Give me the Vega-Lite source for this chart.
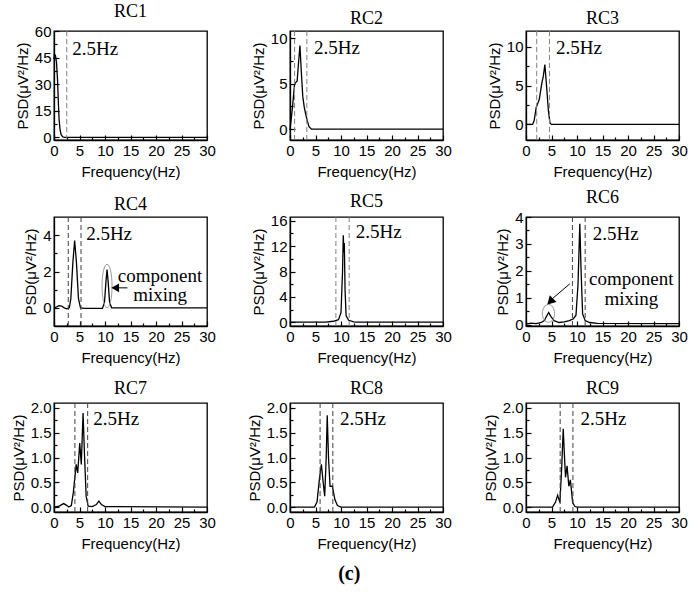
{
"$schema":"https://vega.github.io/schema/vega-lite/v6.json",
"background":"white",
"padding":{"left":10,"top":2,"right":5,"bottom":5},
"config":{
 "view":{"stroke":"black","strokeWidth":1.3},
 "axis":{"grid":false,"labelFont":"Liberation Sans","labelFontSize":15,"labelColor":"black","titleFont":"Liberation Sans","titleFontSize":15,"titleFontWeight":"normal","titleColor":"black","domainColor":"black","domainWidth":1.3,"tickColor":"black","tickWidth":1.2,"labelPadding":8,"labelOverlap":false,"labelFlush":false},
 "title":{"font":"Liberation Serif","fontSize":18,"fontWeight":"normal","color":"black","offset":3},
 "line":{"color":"black","strokeWidth":1.3},
 "text":{"color":"black"}
},
"datasets":{
 "rc1":[{"f":0,"v":44},{"f":0.1,"v":47},{"f":0.3,"v":46},{"f":0.5,"v":42},{"f":0.7,"v":32},{"f":0.85,"v":20},{"f":1.0,"v":10},{"f":1.2,"v":4},{"f":1.4,"v":1.5},{"f":1.7,"v":0.3},{"f":2.0,"v":0},{"f":30,"v":0}],
 "rc2":[{"f":0,"v":-0.1},{"f":0.5,"v":2.5},{"f":0.9,"v":5},{"f":1.4,"v":5.3},{"f":1.7,"v":7.5},{"f":1.95,"v":9.2},{"f":2.2,"v":6.5},{"f":2.5,"v":3.6},{"f":2.8,"v":2.4},{"f":3.1,"v":1.6},{"f":3.4,"v":0.9},{"f":3.7,"v":0.3},{"f":4.2,"v":0},{"f":30,"v":0}],
 "rc3":[{"f":0,"v":0},{"f":1.3,"v":0},{"f":1.6,"v":0.5},{"f":2.0,"v":2.2},{"f":2.6,"v":3.2},{"f":3.1,"v":5.3},{"f":3.4,"v":6.2},{"f":3.7,"v":7.7},{"f":4.0,"v":5.2},{"f":4.4,"v":1.7},{"f":4.7,"v":0.2},{"f":5,"v":0},{"f":30,"v":0}],
 "rc4":[{"f":0,"v":0},{"f":0.5,"v":0.05},{"f":1.0,"v":0.12},{"f":1.5,"v":0.1},{"f":2.0,"v":0.0},{"f":2.5,"v":-0.05},{"f":3.0,"v":0.0},{"f":3.3,"v":0.5},{"f":3.7,"v":2.5},{"f":4.05,"v":3.7},{"f":4.4,"v":2.5},{"f":4.8,"v":0.5},{"f":5.2,"v":0.0},{"f":6,"v":-0.03},{"f":9.5,"v":-0.03},{"f":9.9,"v":0.3},{"f":10.2,"v":1.5},{"f":10.4,"v":2.1},{"f":10.6,"v":1.5},{"f":10.9,"v":0.3},{"f":11.3,"v":0.0},{"f":30,"v":0}],
 "rc5":[{"f":0,"v":0},{"f":7,"v":0},{"f":8.5,"v":0.15},{"f":9.5,"v":0.4},{"f":10.0,"v":1.5},{"f":10.3,"v":8},{"f":10.45,"v":13.7},{"f":10.55,"v":11},{"f":10.65,"v":12.5},{"f":10.8,"v":5},{"f":11.0,"v":1},{"f":11.5,"v":0.3},{"f":12.5,"v":0.05},{"f":13,"v":0},{"f":30,"v":0}],
 "rc6":[{"f":0,"v":0.02},{"f":1,"v":0.06},{"f":2,"v":0.04},{"f":3,"v":0.08},{"f":3.6,"v":0.15},{"f":4.0,"v":0.3},{"f":4.45,"v":0.45},{"f":4.9,"v":0.3},{"f":5.5,"v":0.15},{"f":6.5,"v":0.08},{"f":7.5,"v":0.1},{"f":8.5,"v":0.15},{"f":9.3,"v":0.22},{"f":9.8,"v":0.35},{"f":10.2,"v":1.5},{"f":10.55,"v":3.75},{"f":10.8,"v":2},{"f":11.1,"v":0.4},{"f":11.6,"v":0.15},{"f":12.5,"v":0.08},{"f":14,"v":0.05},{"f":30,"v":0.04}],
 "rc7":[{"f":0,"v":0},{"f":1,"v":0.02},{"f":1.9,"v":0.07},{"f":2.4,"v":0.04},{"f":2.9,"v":0.0},{"f":3.4,"v":0.03},{"f":3.8,"v":0.3},{"f":4.35,"v":0.86},{"f":4.65,"v":0.69},{"f":5.05,"v":1.29},{"f":5.35,"v":0.86},{"f":5.7,"v":1.9},{"f":6.0,"v":1.0},{"f":6.3,"v":0.22},{"f":6.7,"v":0.02},{"f":7.5,"v":0.01},{"f":8.3,"v":0.05},{"f":8.8,"v":0.12},{"f":9.3,"v":0.05},{"f":10,"v":0.01},{"f":12,"v":0.01},{"f":30,"v":0}],
 "rc8":[{"f":0,"v":0},{"f":4.8,"v":0},{"f":5.3,"v":0.1},{"f":5.8,"v":0.6},{"f":6.15,"v":0.86},{"f":6.5,"v":0.5},{"f":6.8,"v":0.22},{"f":7.1,"v":1.0},{"f":7.3,"v":1.85},{"f":7.55,"v":1.0},{"f":7.85,"v":0.42},{"f":8.3,"v":0.42},{"f":8.8,"v":0.15},{"f":9.3,"v":0.03},{"f":10,"v":0},{"f":30,"v":0}],
 "rc9":[{"f":0,"v":0},{"f":5.2,"v":0},{"f":5.8,"v":0.1},{"f":6.2,"v":0.24},{"f":6.65,"v":0.09},{"f":7.0,"v":0.8},{"f":7.3,"v":1.58},{"f":7.6,"v":0.9},{"f":7.75,"v":0.6},{"f":8.05,"v":0.83},{"f":8.4,"v":0.42},{"f":8.7,"v":0.55},{"f":9.15,"v":0.09},{"f":9.6,"v":0.01},{"f":10,"v":0},{"f":30,"v":0}]
},
"columns":3,
"spacing":{"row":77,"column":83},
"bounds":"flush",
"title":{"text":"(c)","orient":"bottom","font":"Liberation Serif","fontSize":20,"fontWeight":"bold","offset":12,"anchor":"middle"},
"concat":[
 {"title":"RC1","width":153,"height":109,"layer":[
  {"data":{"name":"rc1"},"mark":{"type":"line"},"encoding":{
   "x":{"field":"f","type":"quantitative","scale":{"domain":[0,30],"nice":false},"axis":{"title":"Frequency(Hz)","format":"~g","tickCount":100,"values":[0,2.5,5,7.5,10,12.5,15,17.5,20,22.5,25,27.5,30],"labelExpr":"datum.value % 5 === 0 ? datum.label : ''","tickSize":{"condition":{"test":"datum.value % 5 === 0","value":-5},"value":-3}}},
   "y":{"field":"v","type":"quantitative","scale":{"domain":[-1.5,60],"nice":false,"zero":false},"axis":{"title":"PSD(μV²/Hz)","format":"~g","tickCount":100,"values":[0,7.5,15,22.5,30,37.5,45,52.5,60],"labelExpr":"datum.value % 15 === 0 ? datum.label : ''","tickSize":{"condition":{"test":"datum.value % 15 === 0","value":-5},"value":-3}}}}},
  {"data":{"values":[{"f":2.5}]},"mark":{"type":"rule","color":"#808080","strokeDash":[5,3],"strokeWidth":1},"encoding":{"x":{"field":"f","type":"quantitative"}}},
  {"data":{"values":[{"f":3.57,"v":49.9,"t":"2.5Hz"}]},"mark":{"type":"text","align":"left","baseline":"middle","font":"Liberation Serif","fontSize":19},"encoding":{"x":{"field":"f","type":"quantitative"},"y":{"field":"v","type":"quantitative"},"text":{"field":"t"}}}
 ]},
 {"title":"RC2","width":153,"height":109,"layer":[
  {"data":{"name":"rc2"},"mark":{"type":"line"},"encoding":{
   "x":{"field":"f","type":"quantitative","scale":{"domain":[0,30],"nice":false},"axis":{"title":"Frequency(Hz)","format":"~g","tickCount":100,"values":[0,2.5,5,7.5,10,12.5,15,17.5,20,22.5,25,27.5,30],"labelExpr":"datum.value % 5 === 0 ? datum.label : ''","tickSize":{"condition":{"test":"datum.value % 5 === 0","value":-5},"value":-3}}},
   "y":{"field":"v","type":"quantitative","scale":{"domain":[-1.2,10.8],"nice":false,"zero":false},"axis":{"title":"PSD(μV²/Hz)","format":"~g","tickCount":100,"values":[0,2.5,5,7.5,10],"labelExpr":"datum.value % 5 === 0 ? datum.label : ''","tickSize":{"condition":{"test":"datum.value % 5 === 0","value":-5},"value":-3}}}}},
  {"data":{"values":[{"f":0.9},{"f":3.3}]},"mark":{"type":"rule","color":"#808080","strokeDash":[5,3],"strokeWidth":1},"encoding":{"x":{"field":"f","type":"quantitative"}}},
  {"data":{"values":[{"f":4.7,"v":8.9,"t":"2.5Hz"}]},"mark":{"type":"text","align":"left","baseline":"middle","font":"Liberation Serif","fontSize":19},"encoding":{"x":{"field":"f","type":"quantitative"},"y":{"field":"v","type":"quantitative"},"text":{"field":"t"}}}
 ]},
 {"title":"RC3","width":153,"height":109,"layer":[
  {"data":{"name":"rc3"},"mark":{"type":"line"},"encoding":{
   "x":{"field":"f","type":"quantitative","scale":{"domain":[0,30],"nice":false},"axis":{"title":"Frequency(Hz)","format":"~g","tickCount":100,"values":[0,2.5,5,7.5,10,12.5,15,17.5,20,22.5,25,27.5,30],"labelExpr":"datum.value % 5 === 0 ? datum.label : ''","tickSize":{"condition":{"test":"datum.value % 5 === 0","value":-5},"value":-3}}},
   "y":{"field":"v","type":"quantitative","scale":{"domain":[-2,12],"nice":false,"zero":false},"axis":{"title":"PSD(μV²/Hz)","format":"~g","tickCount":100,"values":[0,2.5,5,7.5,10],"labelExpr":"datum.value % 5 === 0 ? datum.label : ''","tickSize":{"condition":{"test":"datum.value % 5 === 0","value":-5},"value":-3}}}}},
  {"data":{"values":[{"f":2.1},{"f":4.6}]},"mark":{"type":"rule","color":"#808080","strokeDash":[5,3],"strokeWidth":1},"encoding":{"x":{"field":"f","type":"quantitative"}}},
  {"data":{"values":[{"f":5.9,"v":9.8,"t":"2.5Hz"}]},"mark":{"type":"text","align":"left","baseline":"middle","font":"Liberation Serif","fontSize":19},"encoding":{"x":{"field":"f","type":"quantitative"},"y":{"field":"v","type":"quantitative"},"text":{"field":"t"}}}
 ]},
 {"title":"RC4","width":153,"height":109,"layer":[
  {"data":{"name":"rc4"},"mark":{"type":"line"},"encoding":{
   "x":{"field":"f","type":"quantitative","scale":{"domain":[0,30],"nice":false},"axis":{"title":"Frequency(Hz)","format":"~g","tickCount":100,"values":[0,2.5,5,7.5,10,12.5,15,17.5,20,22.5,25,27.5,30],"labelExpr":"datum.value % 5 === 0 ? datum.label : ''","tickSize":{"condition":{"test":"datum.value % 5 === 0","value":-5},"value":-3}}},
   "y":{"field":"v","type":"quantitative","scale":{"domain":[-1,5],"nice":false,"zero":false},"axis":{"title":"PSD(μV²/Hz)","format":"~g","tickCount":100,"values":[0,1,2,3,4],"labelExpr":"datum.value % 2 === 0 ? datum.label : ''","tickSize":{"condition":{"test":"datum.value % 2 === 0","value":-5},"value":-3}}}}},
  {"data":{"values":[{"f":2.8},{"f":5.3}]},"mark":{"type":"rule","color":"#404040","strokeDash":[5,3],"strokeWidth":1},"encoding":{"x":{"field":"f","type":"quantitative"}}},
  {"data":{"values":[{"f":6.3,"v":4.05,"t":"2.5Hz"}]},"mark":{"type":"text","align":"left","baseline":"middle","font":"Liberation Serif","fontSize":19},"encoding":{"x":{"field":"f","type":"quantitative"},"y":{"field":"v","type":"quantitative"},"text":{"field":"t"}}},
  {"data":{"values":[{"f":20.8,"v":1.75,"t":"component"},{"f":20.8,"v":0.69,"t":"mixing"}]},"mark":{"type":"text","align":"center","baseline":"middle","font":"Liberation Serif","fontSize":19},"encoding":{"x":{"field":"f","type":"quantitative"},"y":{"field":"v","type":"quantitative"},"text":{"field":"t"}}},
  {"data":{"values":[{"f":10.4,"v":1.2}]},"mark":{"type":"point","shape":"M0,-1 A0.23,1 0 1,1 0,1 A0.23,1 0 1,1 0,-1 Z","size":1900,"filled":false,"stroke":"#999999","strokeWidth":1,"opacity":1},"encoding":{"x":{"field":"f","type":"quantitative"},"y":{"field":"v","type":"quantitative"}}},
  {"data":{"values":[{"f":12.4,"f2":14.4,"v":1.1,"v2":1.1}]},"mark":{"type":"rule","color":"black","strokeWidth":1},"encoding":{"x":{"field":"f","type":"quantitative"},"x2":{"field":"f2"},"y":{"field":"v","type":"quantitative"},"y2":{"field":"v2"}}},
  {"data":{"values":[{"f":12.0,"v":1.1}]},"mark":{"type":"point","shape":"triangle-left","size":80,"filled":true,"color":"black","opacity":1},"encoding":{"x":{"field":"f","type":"quantitative"},"y":{"field":"v","type":"quantitative"}}}
 ]},
 {"title":"RC5","width":153,"height":109,"layer":[
  {"data":{"name":"rc5"},"mark":{"type":"line"},"encoding":{
   "x":{"field":"f","type":"quantitative","scale":{"domain":[0,30],"nice":false},"axis":{"title":"Frequency(Hz)","format":"~g","tickCount":100,"values":[0,2.5,5,7.5,10,12.5,15,17.5,20,22.5,25,27.5,30],"labelExpr":"datum.value % 5 === 0 ? datum.label : ''","tickSize":{"condition":{"test":"datum.value % 5 === 0","value":-5},"value":-3}}},
   "y":{"field":"v","type":"quantitative","scale":{"domain":[-0.6,16.6],"nice":false,"zero":false},"axis":{"title":"PSD(μV²/Hz)","format":"~g","tickCount":100,"values":[0,2,4,6,8,10,12,14,16],"labelExpr":"datum.value % 4 === 0 ? datum.label : ''","tickSize":{"condition":{"test":"datum.value % 4 === 0","value":-5},"value":-3}}}}},
  {"data":{"values":[{"f":9.0},{"f":11.6}]},"mark":{"type":"rule","color":"#808080","strokeDash":[5,3],"strokeWidth":1},"encoding":{"x":{"field":"f","type":"quantitative"}}},
  {"data":{"values":[{"f":12.9,"v":14.2,"t":"2.5Hz"}]},"mark":{"type":"text","align":"left","baseline":"middle","font":"Liberation Serif","fontSize":19},"encoding":{"x":{"field":"f","type":"quantitative"},"y":{"field":"v","type":"quantitative"},"text":{"field":"t"}}}
 ]},
 {"title":"RC6","width":153,"height":109,"layer":[
  {"data":{"name":"rc6"},"mark":{"type":"line"},"encoding":{
   "x":{"field":"f","type":"quantitative","scale":{"domain":[0,30],"nice":false},"axis":{"title":"Frequency(Hz)","format":"~g","tickCount":100,"values":[0,2.5,5,7.5,10,12.5,15,17.5,20,22.5,25,27.5,30],"labelExpr":"datum.value % 5 === 0 ? datum.label : ''","tickSize":{"condition":{"test":"datum.value % 5 === 0","value":-5},"value":-3}}},
   "y":{"field":"v","type":"quantitative","scale":{"domain":[-0.05,4],"nice":false,"zero":false},"axis":{"title":"PSD(μV²/Hz)","format":"~g","tickCount":100,"values":[0,0.5,1,1.5,2,2.5,3,3.5,4],"labelExpr":"datum.value % 1 === 0 ? datum.label : ''","tickSize":{"condition":{"test":"datum.value % 1 === 0","value":-5},"value":-3}}}}},
  {"data":{"values":[{"f":9.1},{"f":11.6}]},"mark":{"type":"rule","color":"#404040","strokeDash":[5,3],"strokeWidth":1},"encoding":{"x":{"field":"f","type":"quantitative"}}},
  {"data":{"values":[{"f":13.1,"v":3.38,"t":"2.5Hz"}]},"mark":{"type":"text","align":"left","baseline":"middle","font":"Liberation Serif","fontSize":19},"encoding":{"x":{"field":"f","type":"quantitative"},"y":{"field":"v","type":"quantitative"},"text":{"field":"t"}}},
  {"data":{"values":[{"f":20.65,"v":1.71,"t":"component"},{"f":20.65,"v":0.97,"t":"mixing"}]},"mark":{"type":"text","align":"center","baseline":"middle","font":"Liberation Serif","fontSize":19},"encoding":{"x":{"field":"f","type":"quantitative"},"y":{"field":"v","type":"quantitative"},"text":{"field":"t"}}},
  {"data":{"values":[{"f":4.4,"v":0.42}]},"mark":{"type":"point","shape":"M0,-1 A0.68,1 0 1,1 0,1 A0.68,1 0 1,1 0,-1 Z","size":320,"filled":false,"stroke":"#999999","strokeWidth":1,"opacity":1},"encoding":{"x":{"field":"f","type":"quantitative"},"y":{"field":"v","type":"quantitative"}}},
  {"data":{"values":[{"f":8.6,"f2":5.2,"v":1.52,"v2":0.97}]},"mark":{"type":"rule","color":"black","strokeWidth":1},"encoding":{"x":{"field":"f","type":"quantitative"},"x2":{"field":"f2"},"y":{"field":"v","type":"quantitative"},"y2":{"field":"v2"}}},
  {"data":{"values":[{"f":4.75,"v":0.86}]},"mark":{"type":"point","shape":"triangle-up","angle":225,"size":90,"filled":true,"color":"black","opacity":1},"encoding":{"x":{"field":"f","type":"quantitative"},"y":{"field":"v","type":"quantitative"}}}
 ]},
 {"title":"RC7","width":153,"height":109,"layer":[
  {"data":{"name":"rc7"},"mark":{"type":"line"},"encoding":{
   "x":{"field":"f","type":"quantitative","scale":{"domain":[0,30],"nice":false},"axis":{"title":"Frequency(Hz)","format":"~g","tickCount":100,"values":[0,2.5,5,7.5,10,12.5,15,17.5,20,22.5,25,27.5,30],"labelExpr":"datum.value % 5 === 0 ? datum.label : ''","tickSize":{"condition":{"test":"datum.value % 5 === 0","value":-5},"value":-3}}},
   "y":{"field":"v","type":"quantitative","scale":{"domain":[-0.1,2.1],"nice":false,"zero":false},"axis":{"title":"PSD(μV²/Hz)","tickCount":100,"values":[0,0.25,0.5,0.75,1,1.25,1.5,1.75,2],"format":".1f","labelExpr":"datum.value % 0.5 === 0 ? datum.label : ''","tickSize":{"condition":{"test":"datum.value % 0.5 === 0","value":-5},"value":-3}}}}},
  {"data":{"values":[{"f":4.1},{"f":6.6}]},"mark":{"type":"rule","color":"#404040","strokeDash":[5,3],"strokeWidth":1},"encoding":{"x":{"field":"f","type":"quantitative"}}},
  {"data":{"values":[{"f":7.7,"v":1.78,"t":"2.5Hz"}]},"mark":{"type":"text","align":"left","baseline":"middle","font":"Liberation Serif","fontSize":19},"encoding":{"x":{"field":"f","type":"quantitative"},"y":{"field":"v","type":"quantitative"},"text":{"field":"t"}}}
 ]},
 {"title":"RC8","width":153,"height":109,"layer":[
  {"data":{"name":"rc8"},"mark":{"type":"line"},"encoding":{
   "x":{"field":"f","type":"quantitative","scale":{"domain":[0,30],"nice":false},"axis":{"title":"Frequency(Hz)","format":"~g","tickCount":100,"values":[0,2.5,5,7.5,10,12.5,15,17.5,20,22.5,25,27.5,30],"labelExpr":"datum.value % 5 === 0 ? datum.label : ''","tickSize":{"condition":{"test":"datum.value % 5 === 0","value":-5},"value":-3}}},
   "y":{"field":"v","type":"quantitative","scale":{"domain":[-0.1,2.1],"nice":false,"zero":false},"axis":{"title":"PSD(μV²/Hz)","tickCount":100,"values":[0,0.25,0.5,0.75,1,1.25,1.5,1.75,2],"format":".1f","labelExpr":"datum.value % 0.5 === 0 ? datum.label : ''","tickSize":{"condition":{"test":"datum.value % 0.5 === 0","value":-5},"value":-3}}}}},
  {"data":{"values":[{"f":5.9},{"f":8.4}]},"mark":{"type":"rule","color":"#404040","strokeDash":[5,3],"strokeWidth":1},"encoding":{"x":{"field":"f","type":"quantitative"}}},
  {"data":{"values":[{"f":9.8,"v":1.78,"t":"2.5Hz"}]},"mark":{"type":"text","align":"left","baseline":"middle","font":"Liberation Serif","fontSize":19},"encoding":{"x":{"field":"f","type":"quantitative"},"y":{"field":"v","type":"quantitative"},"text":{"field":"t"}}}
 ]},
 {"title":"RC9","width":153,"height":109,"layer":[
  {"data":{"name":"rc9"},"mark":{"type":"line"},"encoding":{
   "x":{"field":"f","type":"quantitative","scale":{"domain":[0,30],"nice":false},"axis":{"title":"Frequency(Hz)","format":"~g","tickCount":100,"values":[0,2.5,5,7.5,10,12.5,15,17.5,20,22.5,25,27.5,30],"labelExpr":"datum.value % 5 === 0 ? datum.label : ''","tickSize":{"condition":{"test":"datum.value % 5 === 0","value":-5},"value":-3}}},
   "y":{"field":"v","type":"quantitative","scale":{"domain":[-0.1,2.1],"nice":false,"zero":false},"axis":{"title":"PSD(μV²/Hz)","tickCount":100,"values":[0,0.25,0.5,0.75,1,1.25,1.5,1.75,2],"format":".1f","labelExpr":"datum.value % 0.5 === 0 ? datum.label : ''","tickSize":{"condition":{"test":"datum.value % 0.5 === 0","value":-5},"value":-3}}}}},
  {"data":{"values":[{"f":6.7},{"f":9.2}]},"mark":{"type":"rule","color":"#404040","strokeDash":[5,3],"strokeWidth":1},"encoding":{"x":{"field":"f","type":"quantitative"}}},
  {"data":{"values":[{"f":10.7,"v":1.78,"t":"2.5Hz"}]},"mark":{"type":"text","align":"left","baseline":"middle","font":"Liberation Serif","fontSize":19},"encoding":{"x":{"field":"f","type":"quantitative"},"y":{"field":"v","type":"quantitative"},"text":{"field":"t"}}}
 ]}
]
}
